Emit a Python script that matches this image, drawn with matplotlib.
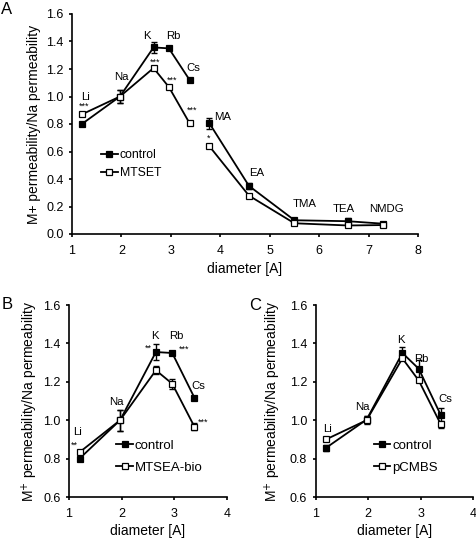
import numpy as np
import matplotlib
matplotlib.use("Agg")
import matplotlib.pyplot as plt

plt.rcParams['font.family'] = ['Liberation Sans', 'DejaVu Sans']

# ---- data ----
ions_a = ['Li', 'Na', 'K', 'Rb', 'Cs', 'MA', 'EA', 'TMA', 'TEA', 'NMDG']
diam_a = [1.20, 1.97, 2.65, 2.96, 3.38, 3.78, 4.58, 5.50, 6.58, 7.29]
ctrl_a = [0.80, 1.00, 1.357, 1.35, 1.12, 0.805, 0.35, 0.10, 0.093, 0.075]
ctrl_a_err = [0.01, 0.05, 0.04, 0.01, 0.01, 0.04, 0.02, 0.01, 0.02, 0.01]
mtset = [0.87, 1.00, 1.207, 1.069, 0.805, 0.638, 0.279, 0.078, 0.062, 0.065]
mtset_err = [0.01, 0.05, 0.01, 0.01, 0.01, 0.01, 0.01, 0.01, 0.01, 0.01]

ions_bc = ['Li', 'Na', 'K', 'Rb', 'Cs']
diam_bc = [1.20, 1.97, 2.65, 2.96, 3.38]
ctrl_b = [0.80, 1.00, 1.355, 1.35, 1.118]
ctrl_b_err = [0.01, 0.055, 0.04, 0.01, 0.01]
mtsea = [0.833, 1.00, 1.26, 1.19, 0.967]
mtsea_err = [0.01, 0.055, 0.02, 0.025, 0.02]

ctrl_c = [0.856, 1.003, 1.35, 1.268, 1.026]
ctrl_c_err = [0.015, 0.02, 0.03, 0.045, 0.04]
pcmbs = [0.90, 1.00, 1.322, 1.207, 0.978]
pcmbs_err = [0.01, 0.02, 0.01, 0.01, 0.02]

fig = plt.figure(figsize=(4.77, 5.38), dpi=100)


def style(ax):
    for s in ['top', 'right']:
        ax.spines[s].set_visible(False)
    for s in ['left', 'bottom']:
        ax.spines[s].set_linewidth(1.2)
    ax.tick_params(direction='out', length=2.5, width=1.2, labelsize=9)
    ax.tick_params(axis='x', pad=5.5)
    ax.tick_params(axis='y', pad=3.5)


def series(ax, x, y, err, filled, label, segments):
    mfc = 'black' if filled else 'white'
    ms = 4.2 if filled else 3.8
    z = 3 if filled else 4
    ax.errorbar(x, y, yerr=err, fmt='none', ecolor='black', elinewidth=1.0,
                capsize=2, capthick=1.0, zorder=z)
    first = True
    for a, b in segments:
        ax.plot(x[a:b], y[a:b], color='black', lw=1.3, marker='s', ms=ms,
                mfc=mfc, mec='black', mew=0.9,
                label=label if first else None, zorder=z)
        first = False


def add_legend(ax, anchor, size, spacing, hl):
    ax.legend(loc='upper left', bbox_to_anchor=anchor, frameon=False,
              fontsize=size, handlelength=hl, handletextpad=0.15,
              labelspacing=spacing, borderpad=0, borderaxespad=0)


# ---- panel A ----
axA = fig.add_axes([72 / 477, 1 - 234 / 538, 346 / 477, 220 / 538])
series(axA, diam_a, ctrl_a, ctrl_a_err, True, 'control', [(0, 5), (5, 10)])
series(axA, diam_a, mtset, mtset_err, False, 'MTSET', [(0, 5), (5, 10)])
axA.set_xlim(1, 8)
axA.set_ylim(0, 1.6)
axA.set_xticks(range(1, 9))
axA.set_yticks(np.arange(0, 1.61, 0.2))
axA.set_yticklabels([f'{v:.1f}' for v in np.arange(0, 1.61, 0.2)])
axA.set_xlabel('diameter [A]', fontsize=10)
axA.set_ylabel('M+ permeability/Na permeability', fontsize=10)
axA.xaxis.set_label_coords(0.5, -0.125)
axA.yaxis.set_label_coords(-0.09, 0.5)
style(axA)
lab_a = [(1.28, 1.0), (1.99, 1.14), (2.51, 1.44), (3.04, 1.44), (3.46, 1.205),
         (4.05, 0.85), (4.74, 0.44), (5.7, 0.22), (6.5, 0.18), (7.36, 0.18)]
for name, (x, y) in zip(ions_a, lab_a):
    axA.text(x, y, name, fontsize=8.2, ha='center', va='center')
for s, (x, y) in zip(['***', '***', '***', '***', '*'],
                     [(1.24, 0.926), (2.69, 1.25), (3.02, 1.12), (3.43, 0.897), (3.77, 0.70)]):
    axA.text(x, y, s, fontsize=6.5, ha='center', va='center')
add_legend(axA, (0.083, 0.385), 8.8, 0.45, 1.4)
fig.text(0.003, 0.997, 'A', fontsize=12, ha='left', va='top')

# ---- panels B and C ----
axB = fig.add_axes([69 / 477, 1 - 497 / 538, 158 / 477, 192 / 538])
axC = fig.add_axes([315.5 / 477, 1 - 497 / 538, 158 / 477, 192 / 538])
series(axB, diam_bc, ctrl_b, ctrl_b_err, True, 'control', [(0, 5)])
series(axB, diam_bc, mtsea, mtsea_err, False, 'MTSEA-bio', [(0, 5)])
series(axC, diam_bc, ctrl_c, ctrl_c_err, True, 'control', [(0, 5)])
series(axC, diam_bc, pcmbs, pcmbs_err, False, 'pCMBS', [(0, 5)])

for ax, ylx in ((axB, -0.185), (axC, -0.205)):
    ax.set_xlim(1, 4)
    ax.set_ylim(0.6, 1.6)
    ax.set_xticks([1, 2, 3, 4])
    ax.set_yticks(np.arange(0.6, 1.61, 0.2))
    ax.set_yticklabels([f'{v:.1f}' for v in np.arange(0.6, 1.61, 0.2)])
    ax.set_xlabel('diameter [A]', fontsize=10)
    ax.set_ylabel('M$^{+}$ permeability/Na permeability', fontsize=10)
    ax.xaxis.set_label_coords(0.5, -0.14)
    ax.yaxis.set_label_coords(ylx, 0.5)
    style(ax)

lab_b = [(1.16, 0.937), (1.90, 1.097), (2.64, 1.437), (3.03, 1.437), (3.45, 1.176)]
for name, (x, y) in zip(ions_bc, lab_b):
    axB.text(x, y, name, fontsize=8.2, ha='center', va='center')
for s, (x, y) in zip(['**', '**', '***', '***'],
                     [(1.10, 0.871), (2.50, 1.374), (3.18, 1.371), (3.55, 0.989)]):
    axB.text(x, y, s, fontsize=6.5, ha='center', va='center')
add_legend(axB, (0.30, 0.30), 9.5, 0.75, 1.25)

lab_c = [(1.23, 0.955), (1.89, 1.068), (2.63, 1.42), (3.01, 1.317), (3.47, 1.108)]
for name, (x, y) in zip(ions_bc, lab_c):
    axC.text(x, y, name, fontsize=8.2, ha='center', va='center')
add_legend(axC, (0.37, 0.30), 9.5, 0.75, 1.25)

fig.text(2 / 477, 1 - 297 / 538, 'B', fontsize=12, ha='left', va='top')
fig.text(249 / 477, 1 - 298 / 538, 'C', fontsize=12, ha='left', va='top')

fig.savefig('out.png', dpi=100)
